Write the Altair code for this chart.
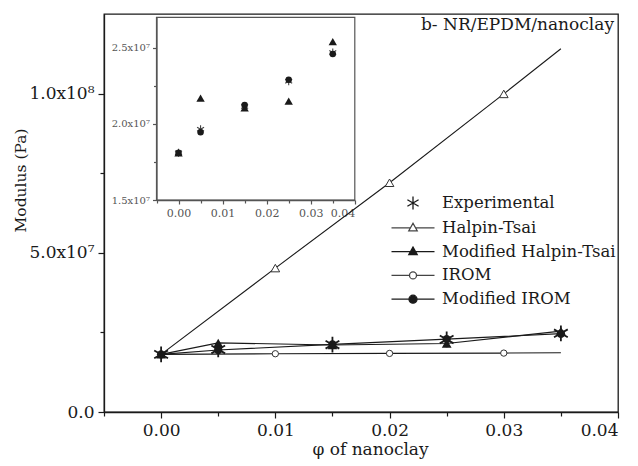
import altair as alt
import pandas as pd

# ---------------- data ----------------
series = ["Experimental", "Halpin-Tsai", "Modified Halpin-Tsai", "IROM", "Modified IROM"]

phi_exp = [0.0, 0.005, 0.015, 0.025, 0.035]
experimental = [1.81e7, 1.965e7, 2.115e7, 2.28e7, 2.47e7]
mod_halpin = [1.81e7, 2.17e7, 2.105e7, 2.15e7, 2.54e7]
mod_irom = [1.81e7, 1.945e7, 2.125e7, 2.29e7, 2.46e7]

phi_model = [0.0, 0.01, 0.02, 0.03, 0.035]
halpin = [1.81e7, 4.52e7, 7.20e7, 9.99e7, 1.141e8]
irom = [1.81e7, 1.83e7, 1.84e7, 1.85e7, 1.86e7]

main_x_domain = [-0.005, 0.04]
main_y_domain = [0.0, 1.25e8]
inset_x_domain = [-0.005, 0.04]
inset_y_domain = [1.5e7, 2.7e7]

x_tick_values = [-0.005, 0.0, 0.005, 0.01, 0.015, 0.02, 0.025, 0.03, 0.035, 0.04]
main_y_tick_values = [0.0, 2.5e7, 5.0e7, 7.5e7, 1.0e8]
inset_y_tick_values = [1.5e7, 1.75e7, 2.0e7, 2.25e7, 2.5e7]

annotation = "b- NR/EPDM/nanoclay"
x_title = "\u03c6 of nanoclay"
y_title = "Modulus (Pa)"

# ---------------- frames ----------------
rows = []
for name, xs, ys in [
    ("Experimental", phi_exp, experimental),
    ("Halpin-Tsai", phi_model, halpin),
    ("Modified Halpin-Tsai", phi_exp, mod_halpin),
    ("IROM", phi_model, irom),
    ("Modified IROM", phi_exp, mod_irom),
]:
    for xv, yv in zip(xs, ys):
        rows.append({"series": name, "phi": xv, "value": yv})
df = pd.DataFrame(rows)

FONT = "DejaVu Serif"
INK = "#1a1a1a"
W, H = 514, 398

minor_x = "abs(round(datum.value*200)) % 2 == 1"

main_x = alt.X(
    "phi:Q",
    scale=alt.Scale(domain=main_x_domain, nice=False, zero=False),
    axis=alt.Axis(
        values=x_tick_values,
        labelExpr=f"{minor_x} ? '' : format(datum.value, '.2f')",
        tickSize={"condition": {"test": minor_x, "value": 4}, "value": 6},
        labelFontSize=17, labelPadding=4, grid=False,
        titleX=266, titleY=37, titleBaseline="middle", titleFontSize=17,
    ),
    title=x_title,
)
main_y = alt.Y(
    "value:Q",
    scale=alt.Scale(domain=main_y_domain, nice=False, zero=False),
    axis=alt.Axis(
        values=main_y_tick_values,
        labelExpr="datum.value == 0 ? '0.0' : datum.value == 5e7 ? '5.0x10\u2077' : datum.value == 1e8 ? '1.0x10\u2078' : ''",
        tickSize={"condition": {"test": "datum.value % 5e7 != 0", "value": 4}, "value": 6},
        labelFontSize=17, labelPadding=4, grid=False,
        titleAngle=-90, titleX=-91, titleY=166, titleAlign="center",
        titleBaseline="top", titleFontSize=15.5,
    ),
    title=y_title,
)

base = alt.Chart(df)

lines = base.transform_filter(alt.datum.series != "Experimental").mark_line(
    color=INK, strokeWidth=1.1
).encode(x=main_x, y=main_y, detail="series:N")

star_path = "M0,-1L0,1M-0.87,-0.5L0.87,0.5M-0.87,0.5L0.87,-0.5"

def pts(name, **mk):
    return base.transform_filter(alt.datum.series == name).mark_point(**mk)

model_marker = (alt.datum.phi > 0.005) & (alt.datum.phi < 0.034)

m_ht = base.transform_filter(alt.datum.series == "Halpin-Tsai").transform_filter(model_marker).mark_point(
    shape="triangle-up", size=75, filled=True, fill="white", stroke="#333", strokeWidth=1, opacity=1
).encode(x=main_x, y=main_y)
m_irom = base.transform_filter(alt.datum.series == "IROM").transform_filter(model_marker).mark_point(
    shape="circle", size=40, filled=True, fill="white", stroke="#333", strokeWidth=1, opacity=1
).encode(x=main_x, y=main_y)
m_mht = pts("Modified Halpin-Tsai", shape="triangle-up", size=95, filled=True, color=INK, opacity=1).encode(x=main_x, y=main_y)
m_mirom = pts("Modified IROM", shape="circle", size=70, filled=True, color=INK, opacity=1).encode(x=main_x, y=main_y)
m_exp = pts("Experimental", shape=star_path, size=250, filled=False, stroke=INK, strokeWidth=1.8, opacity=1).encode(x=main_x, y=main_y)

ann = alt.Chart(pd.DataFrame({"t": [annotation], "phi": [main_x_domain[1]], "value": [main_y_domain[1]]})).mark_text(
    align="right", baseline="top", dx=-4, dy=3, font=FONT, fontSize=17, color=INK
).encode(x=main_x, y=main_y, text="t:N")

# legend symbols: line + marker paths
legend_paths = [
    "M0,-0.65L0,0.65M-0.56,-0.33L0.56,0.33M-0.56,0.33L0.56,-0.33",
    "M-2.15,0L-0.26,0M0.26,0L2.15,0M0,-0.45L0.42,0.3L-0.42,0.3Z",
    "M-2.15,0L-0.26,0M0.26,0L2.15,0M0,-0.45L0.42,0.3L-0.42,0.3Z",
    "M-2.15,0L-0.35,0M0.35,0L2.15,0M0.35,0A0.35,0.35 0 1,1 -0.35,0A0.35,0.35 0 1,1 0.35,0Z",
    "M-2.15,0L-0.4,0M0.4,0L2.15,0M0.4,0A0.4,0.4 0 1,1 -0.4,0A0.4,0.4 0 1,1 0.4,0Z",
]
legend_fills = ["white", "white", INK, "white", INK]
legend_strokes = [INK, "#444", INK, "#444", INK]

leg = alt.Legend(
    orient="none", legendX=298, legendY=178, title=None,
    labelFont=FONT, labelFontSize=16.5, labelColor=INK, labelOffset=18, labelLimit=400,
    symbolSize=400, symbolStrokeWidth=1.3, symbolOpacity=1,
    rowPadding=3.8, padding=0,
)
legend_layer = alt.Chart(pd.DataFrame({"series": series})).mark_point(
    opacity=0, strokeWidth=1.3
).encode(
    x=alt.value(0), y=alt.value(0),
    shape=alt.Shape("series:N", scale=alt.Scale(domain=series, range=legend_paths), legend=leg),
    fill=alt.Fill("series:N", scale=alt.Scale(domain=series, range=legend_fills), legend=leg),
    stroke=alt.Stroke("series:N", scale=alt.Scale(domain=series, range=legend_strokes), legend=leg),
)

main = alt.layer(lines, m_ht, m_irom, m_mht, m_mirom, m_exp, ann, legend_layer)

# ---------------- inset ----------------
in_left, in_right, in_top, in_bottom = 52.5, 250.8, 3.4, 186
in_x = alt.X(
    "phi:Q",
    scale=alt.Scale(domain=inset_x_domain, range=[in_left, in_right], nice=False, zero=False),
    axis=alt.Axis(
        values=x_tick_values, orient="bottom", offset=-(H - in_bottom),
        labelExpr=f"{minor_x} ? '' : format(datum.value, '.2f')",
        tickSize={"condition": {"test": minor_x, "value": 3}, "value": 4},
        labelFontSize=11, labelColor="#555", labelPadding=3, grid=False,
        domainColor="#555", tickColor="#555",
    ),
    title=None,
)
in_y = alt.Y(
    "value:Q",
    scale=alt.Scale(domain=inset_y_domain, range=[in_bottom, in_top], nice=False, zero=False),
    axis=alt.Axis(
        values=inset_y_tick_values, orient="left", offset=-in_left,
        labelExpr="datum.value % 5e6 != 0 ? '' : format(datum.value/1e7, '.1f') + 'x10\u2077'",
        tickSize={"condition": {"test": "datum.value % 5e6 != 0", "value": 3}, "value": 4},
        labelFontSize=10, labelColor="#555", labelPadding=3, grid=False,
        domainColor="#555", tickColor="#555",
    ),
    title=None,
)

box = alt.Chart(pd.DataFrame({
    "phi": [inset_x_domain[0]], "phi2": [inset_x_domain[1]],
    "value": [inset_y_domain[0]], "value2": [inset_y_domain[1]],
})).mark_rect(fill=None, stroke="#555", strokeWidth=1.2).encode(
    x=in_x, x2="phi2:Q", y=in_y, y2="value2:Q"
)

i_exp = pts("Experimental", shape=star_path, size=64, filled=False, stroke="#444", strokeWidth=1.1, opacity=1).encode(x=in_x, y=in_y)
i_mht = pts("Modified Halpin-Tsai", shape="triangle-up", size=70, filled=True, color=INK, opacity=1).encode(x=in_x, y=in_y)
i_mirom = pts("Modified IROM", shape="circle", size=42, filled=True, color=INK, opacity=1).encode(x=in_x, y=in_y)

inset = alt.layer(box, i_exp, i_mht, i_mirom)

chart = alt.layer(main, inset).resolve_scale(
    x="independent", y="independent"
).properties(
    width=W, height=H,
    padding={"left": 5, "top": 4, "right": 5, "bottom": 5},
).configure_view(
    stroke=INK, strokeWidth=1.3
).configure_axis(
    labelFont=FONT, titleFont=FONT, labelColor=INK, titleColor=INK,
    domainColor=INK, tickColor=INK, titleFontWeight="normal",
    domainWidth=1.3, tickWidth=1.2,
).configure_text(font=FONT)

chart.save("out.html", embed_options={"renderer": "svg", "actions": False})
